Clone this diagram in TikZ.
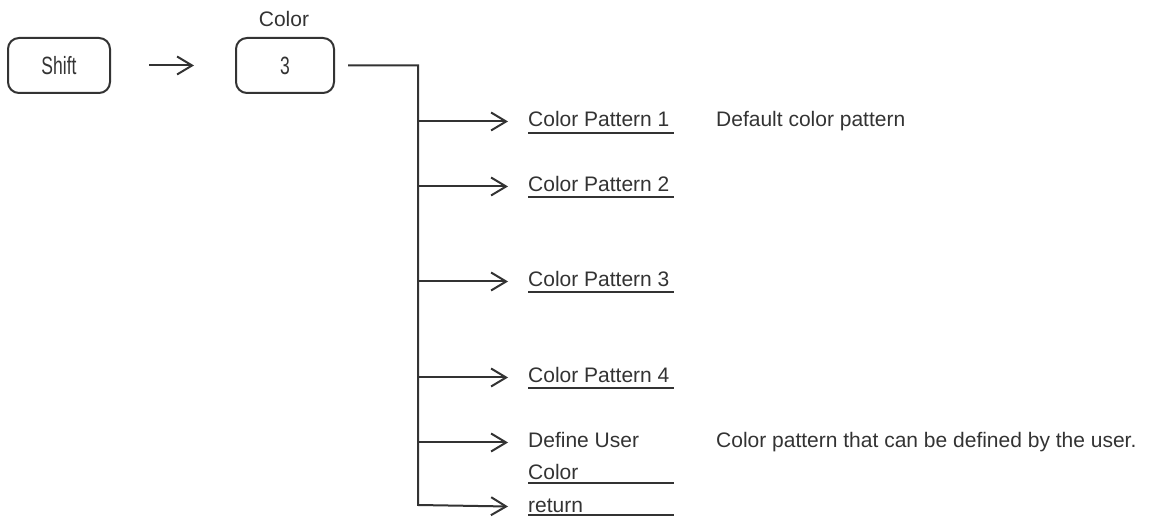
\documentclass[tikz,border=0pt]{standalone}
\usepackage{fontspec}
\setmainfont{Liberation Sans}
\usetikzlibrary{arrows.meta}
\definecolor{ink}{gray}{0.2}
\begin{document}
\begin{tikzpicture}[x=1pt,y=-1pt,
  every node/.style={text=ink, inner sep=0pt},
  txt/.style={font=\fontsize{21}{25}\selectfont, anchor=base west, text height=15pt, text depth=4pt},
  keybox/.style={draw=ink, line width=2pt, rounded corners=11pt, minimum height=55pt, font=\fontsize{25}{29}\selectfont},
  conn/.style={draw=ink, line width=2pt},
  arr/.style={conn, -{Straight Barb[length=15pt,width=18pt,line width=2pt]}},
  uline/.style={draw=ink, line width=2pt}]
\useasboundingbox (0,0) rectangle (1160,518);

% keys
\node[keybox, minimum width=102pt] (shift) at (59,65.5) {\scalebox{0.7}[1]{Shift}};
\node[keybox, minimum width=98pt] (three) at (285,65.5) {\scalebox{0.7}[1]{3}};
\node[font=\fontsize{21}{25}\selectfont, anchor=base] (colorlbl) at (284,27) {Color};

\draw[arr] ([xshift=38pt]shift.east) -- ([xshift=-41pt]three.west);

% menu items
\node[txt] (cp1) at (528,127) {Color Pattern 1};
\node[txt] (cp2) at (528,192) {Color Pattern 2};
\node[txt] (cp3) at (528,287) {Color Pattern 3};
\node[txt] (cp4) at (528,383) {Color Pattern 4};
\node[txt] (du) at (528,448) {Define User};
\node[txt] (duc) at (528,480) {Color};
\node[txt] (ret) at (528,512) {return};

% descriptions
\node[txt] (d1) at (716,127) {Default color pattern};
\node[txt] (d2) at (716,448) {Color pattern that can be defined by the user.};

% underlines
\foreach \y in {133,197,292,388,483,515} {
  \draw[uline] (528,\y) -- (674,\y);
}

% trunk
\coordinate (trunkbot) at (418,505);
\draw[arr] ([xshift=13pt]three.east) -| (trunkbot) -- ([xshift=-20pt]ret.west);
\foreach \n in {cp1,cp2,cp3,cp4,du} {
  \draw[arr] (\n.west -| trunkbot) -- ([xshift=-20pt]\n.west);
}
\end{tikzpicture}
\end{document}
